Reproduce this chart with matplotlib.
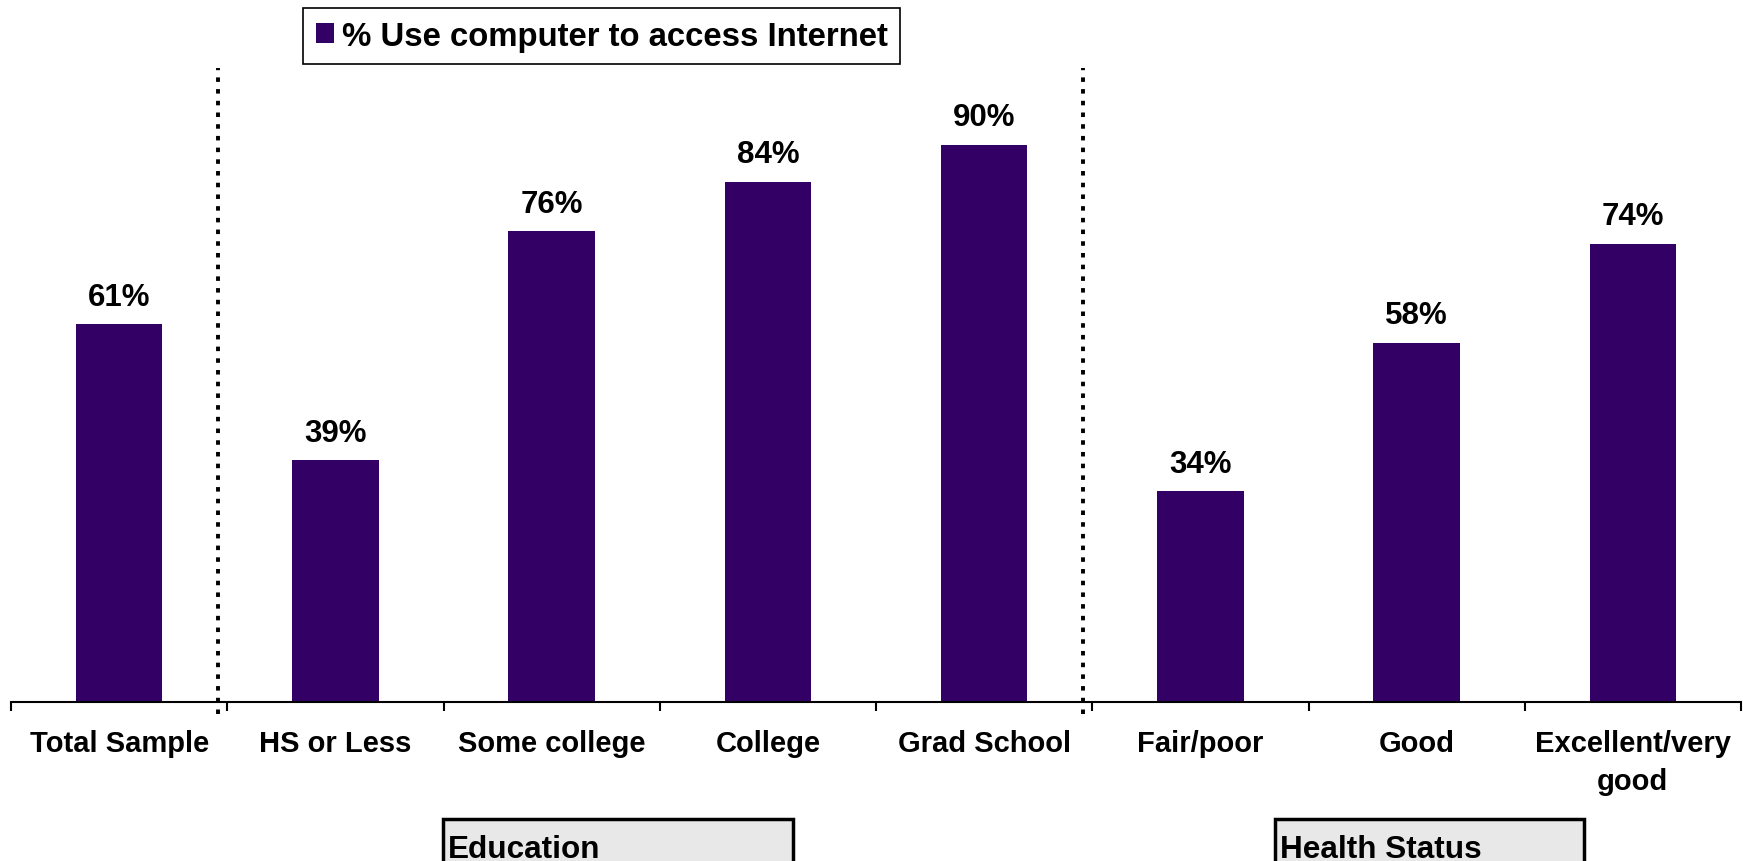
import numpy as np
import matplotlib
matplotlib.use("Agg")
from matplotlib import pyplot as plt
from matplotlib.patches import Rectangle

# %% data
categorias = ["Total Sample", "HS or Less", "Some college", "College",
              "Grad School", "Fair/poor", "Good", "Excellent/very\ngood"]
valores = [61, 39, 76, 84, 90, 34, 58, 74]
serie = "% Use computer to access Internet"
grupos = ["Education", "Health Status"]
separadores = [0.5, 4.5]

roxo = "#330066"
plt.rcParams['font.family'] = ['Liberation Sans', 'DejaVu Sans']
plt.rcParams['font.weight'] = 'bold'

W, H = 1743, 862
fig = plt.figure(figsize=(W / 100, H / 100), dpi=100)
ax = fig.add_axes([11 / W, (H - 702.5) / H, 1730 / W, 618.8 / H])

x = np.arange(len(categorias))
barras = ax.bar(x, valores, width=0.40, color=roxo, label=serie, zorder=2)

# rotulos de valor
for xi, v in zip(x, valores):
    ax.annotate(f"{v}%", (xi, v), xytext=(0, 9), textcoords="offset points",
                ha="center", va="bottom", fontsize=22.5, fontweight="bold")

ax.set_xlim(-0.5, len(categorias) - 0.5)
ax.set_ylim(0, 100)
ax.set_yticks([])
for s in ["left", "top", "right"]:
    ax.spines[s].set_visible(False)
ax.spines["bottom"].set_linewidth(1.5)

ax.set_xticks(x)
ax.set_xticklabels(categorias, fontsize=21, fontweight="bold", linespacing=1.45)
ax.set_xticks(np.arange(-0.5, len(categorias)), minor=True)
ax.tick_params(axis="x", which="major", length=0, pad=20)
ax.tick_params(axis="x", which="minor", length=6.2, width=1.5, direction="out")

# linhas pontilhadas separando os grupos
for sx in separadores:
    ax.axvline(sx - 0.042, ymin=-0.02, ymax=1.024, color="black", lw=2.8,
               linestyle=(0, (1.16, 1.85)), clip_on=False, zorder=3)

leg = ax.legend(loc="upper left", bbox_to_anchor=(303 / W, 1 - 9 / H),
                bbox_transform=fig.transFigure, fontsize=23.7, frameon=True,
                fancybox=False, framealpha=1, edgecolor="black",
                handlelength=0.55, handleheight=0.55, handletextpad=0.25,
                borderpad=0.38, borderaxespad=0)
leg.get_frame().set_linewidth(1.2)
for t in leg.get_texts():
    t.set_fontweight("bold")

# caixas dos grupos
caixas = [(443, 793), (1275, 1584)]
for nome, (x0, x1) in zip(grupos, caixas):
    r = Rectangle((x0 / W, -20 / H), (x1 - x0) / W, (H - 820 + 20) / H,
                  transform=fig.transFigure, facecolor="#e8e8e8",
                  edgecolor="black", lw=2.5, clip_on=False)
    fig.add_artist(r)
    fig.text((x0 + 5) / W, 4 / H, nome, fontsize=22.7, fontweight="bold",
             ha="left", va="baseline")

fig.savefig("out.png", dpi=100)
